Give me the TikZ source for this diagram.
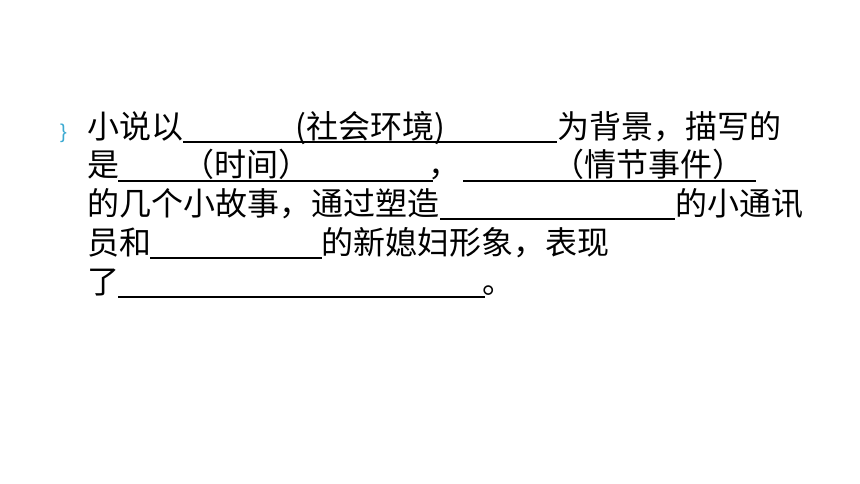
\documentclass[tikz,border=0pt]{standalone}
\usepackage{fontspec}
\setmainfont{Liberation Sans}
\newfontfamily\cjk{Noto Sans CJK SC}
\definecolor{bulletblue}{RGB}{60,170,210}
\begin{document}
\begin{tikzpicture}[x=1pt,y=-1pt,
  txt/.style={anchor=base west,inner sep=0pt,font=\cjk\fontsize{32}{32}\selectfont},
  uline/.style={line width=1.3pt}]
\useasboundingbox (0,0) rectangle (860,484);
\fill[white] (0,0) rectangle (860,484);
% bullet
\node[anchor=base west,inner sep=0pt,text=bulletblue,font=\fontsize{20}{20}\selectfont] (bul) at (60,139) {\}};
% line 1
\node[txt] (l1a) at (87,139) {小说以};
\node[txt] (l1b) at (295,139) {(社会环境)};
\node[txt] (l1c) at (557,139) {为背景，描写的};
\coordinate (u1s) at (183,142);
\coordinate (u1e) at (557,142);
\draw[uline] (u1s) -- (u1e);
% line 2
\node[txt] (l2a) at (87,177) {是};
\node[txt] (l2b) at (182,177) {（时间）};
\node[txt] (l2c) at (428,177) {，};
\node[txt] (l2d) at (552,177) {（情节事件）};
\coordinate (u2s) at (118,181);
\coordinate (u2e) at (433,181);
\coordinate (u3s) at (463,181);
\coordinate (u3e) at (756,181);
\draw[uline] (u2s) -- (u2e);
\draw[uline] (u3s) -- (u3e);
% line 3
\node[txt] (l3a) at (87,215) {的几个小故事，通过塑造};
\node[txt] (l3b) at (675,215) {的小通讯};
\coordinate (u4s) at (440,219);
\coordinate (u4e) at (675,219);
\draw[uline] (u4s) -- (u4e);
% line 4
\node[txt] (l4a) at (87,254) {员和};
\node[txt] (l4b) at (321,254) {的新媳妇形象，表现};
\coordinate (u5s) at (150,258);
\coordinate (u5e) at (322,258);
\draw[uline] (u5s) -- (u5e);
% line 5
\node[txt] (l5a) at (87,293) {了};
\node[txt] (l5b) at (482,293) {。};
\coordinate (u6s) at (118,297);
\coordinate (u6e) at (485,297);
\draw[uline] (u6s) -- (u6e);
\end{tikzpicture}
\end{document}
